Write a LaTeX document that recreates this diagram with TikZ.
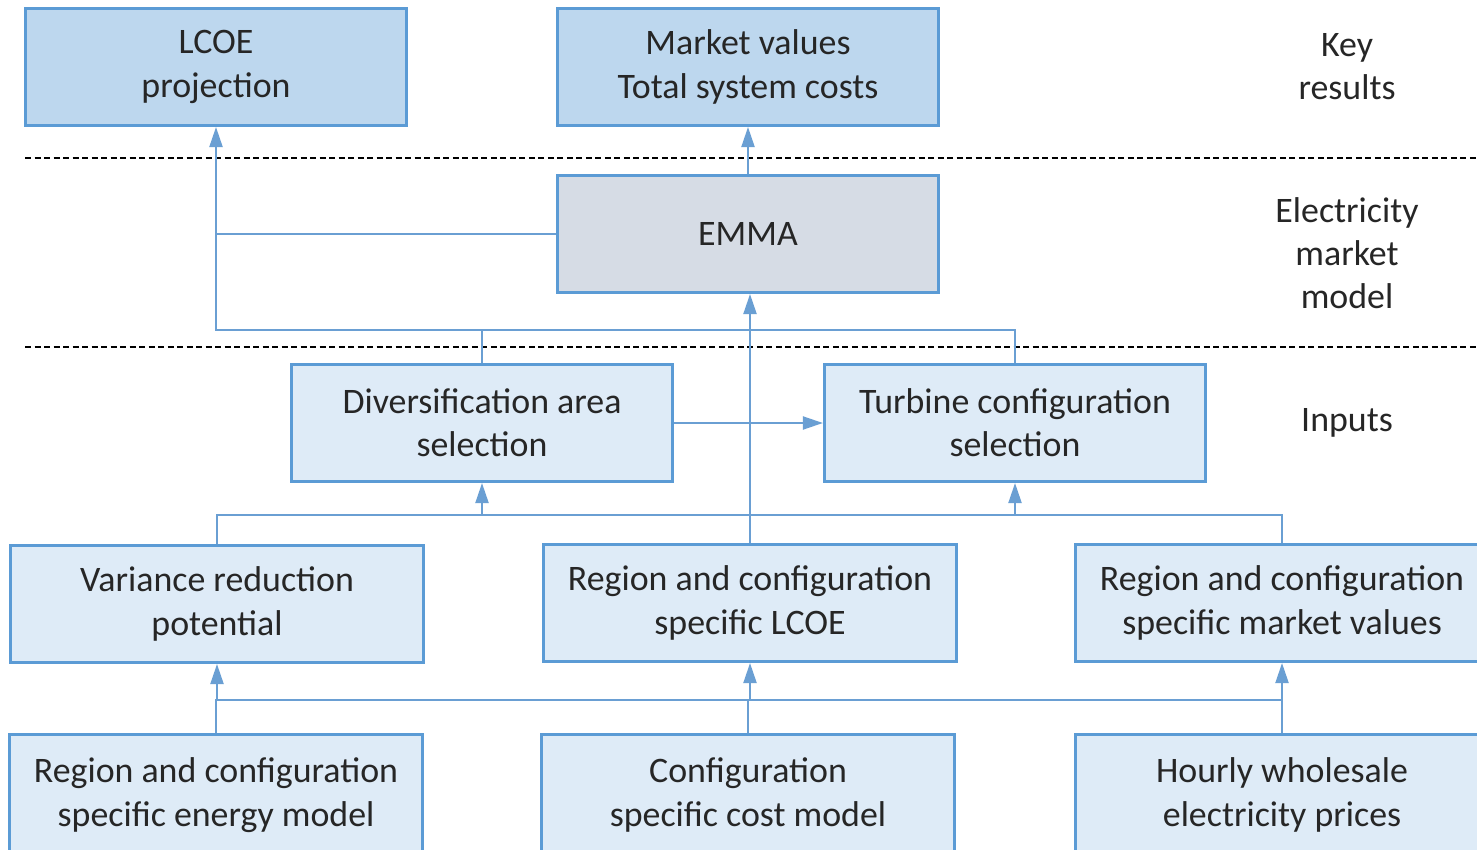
\documentclass[tikz,border=0pt]{standalone}
\usepackage{fontspec}
\setmainfont{Carlito}
\usepackage{xcolor}
\usepackage{tikz}
\usetikzlibrary{arrows.meta,positioning}

\definecolor{boxedge}{HTML}{5B9BD5}
\definecolor{darkfill}{HTML}{BDD7EE}
\definecolor{lightfill}{HTML}{DEEBF7}
\definecolor{grayfill}{HTML}{D6DCE5}
\definecolor{linkcol}{HTML}{6A9FD3}
\definecolor{txt}{HTML}{262626}

\begin{document}
\begin{tikzpicture}[x=0.01cm,y=-0.01cm,font=\fontsize{10.2}{12.3}\selectfont,text=txt,
    >={Triangle[length=2mm,width=1.3mm]},
    blk/.style={draw=boxedge,line width=0.85pt,fill=lightfill,align=center,
      minimum width=3.81cm,minimum height=1.17cm,inner sep=0pt},
    wide/.style={blk,minimum width=4.12cm},
    res/.style={blk,fill=darkfill},
    link/.style={draw=linkcol,line width=0.6pt},
    sep/.style={black,line width=0.45pt,dash pattern=on 0.6mm off 0.35mm},
    lvl/.style={align=center}]
  \useasboundingbox (0,0) rectangle (1477,849);

  % key results
  \node[res] (lcoe) at (216,67) {LCOE\\projection};
  \node[res] (mval) at (748,67) {Market values\\Total system costs};
  \node[lvl] (keyres) at (1347,67) {Key\\results};
  \draw[sep] (25,158) -- (1477,158);

  % model
  \node[blk,fill=grayfill] (emma) at (748,234) {EMMA};
  \node[lvl] (mktmod) at (1347,253) {Electricity\\market\\model};
  \draw[sep] (25,347) -- (1477,347);

  % inputs
  \node[blk] (div)  at (482,423) {Diversification area\\selection};
  \node[blk] (turb) at (1015,423) {Turbine configuration\\selection};
  \node[lvl] (inp) at (1347,423) {Inputs};
  \node[wide] (var)   at (217,604)  {Variance reduction\\potential};
  \node[wide] (rlcoe) at (750,603)  {Region and configuration\\specific LCOE};
  \node[wide] (rmval) at (1282,603) {Region and configuration\\specific market values};
  \node[wide,minimum height=1.2cm] (emod)  at (216,795)  {Region and configuration\\specific energy model};
  \node[wide,minimum height=1.2cm] (cost)  at (748,795)  {Configuration\\specific cost model};
  \node[wide,minimum height=1.2cm] (price) at (1282,795) {Hourly wholesale\\electricity prices};

  \coordinate (topbus) at (0,330);
  \coordinate (midbus) at (0,515);
  \coordinate (lowbus) at (0,700);

  \draw[link,->] (emma) -- (mval);
  \draw[link] (emma.west) -- (emma.west -| lcoe.south);
  \draw[link,->] (turb.north) |- (lcoe.south |- topbus) -- (lcoe.south);
  \draw[link] (div.north) -- (div.north |- topbus);
  \draw[link,->] (rlcoe.north) -- (rlcoe.north |- emma.south);
  \draw[link,->] (div) -- (turb);

  \draw[link] (var.north) |- (midbus -| rmval) -- (rmval.north);
  \draw[link,->] (midbus -| div) -- (div.south);
  \draw[link,->] (midbus -| turb) -- (turb.south);

  \draw[link] (emod.north) |- (lowbus -| price) -- (price.north);
  \draw[link] (cost.north) -- (cost.north |- lowbus);
  \draw[link,->] (lowbus -| var) -- (var.south);
  \draw[link,->] (lowbus -| rlcoe) -- (rlcoe.south);
  \draw[link,->] (lowbus -| rmval) -- (rmval.south);
\end{tikzpicture}
\end{document}
